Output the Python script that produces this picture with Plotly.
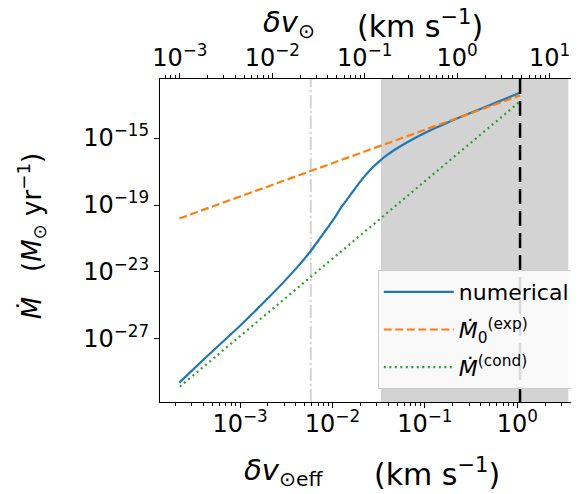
import plotly.graph_objects as go

# ---- data (log10 values) ----
num_logx = [-3.657, -3.40, -3.04, -2.68, -2.39, -2.24, -2.13, -2.00, -1.90, -1.80,
            -1.70, -1.60, -1.50, -1.40, -1.30, -1.20, -1.05, -0.90, -0.70, -0.40,
            -0.006, 0.03]
num_logy = [-29.61, -28.26, -26.42, -24.47, -22.77, -21.78, -20.95, -19.95, -19.10, -18.35,
            -17.60, -16.95, -16.42, -15.98, -15.61, -15.28, -14.83, -14.43, -13.94, -13.26,
            -12.37, -12.27]
exp_logx = [-3.656, -2.0, -1.0, 0.03]
exp_logy = [-19.80, -16.49, -14.47, -12.45]
cond_logx = [-3.651, -2.186, -0.014, 0.03]
cond_logy = [-29.85, -23.07, -13.01, -12.81]

shade_range = [0.0335, 3.56]      # grey band (km/s, bottom axis)
vline_dashdot = 0.00582           # light grey dash-dot line
vline_dashed = 1.07               # black dashed line
top_shift_log = 0.651             # top axis = bottom axis * 10**shift

x_tickvals = [1e-3, 1e-2, 1e-1, 1e0]
x_ticktext = ["10<sup>−3</sup>", "10<sup>−2</sup>", "10<sup>−1</sup>", "10<sup>0</sup>"]
x2_tickvals = [1e-3, 1e-2, 1e-1, 1e0, 1e1]
x2_ticktext = ["10<sup>−3</sup>", "10<sup>−2</sup>", "10<sup>−1</sup>", "10<sup>0</sup>", "10<sup>1</sup>"]
y_tickvals = [1e-27, 1e-23, 1e-19, 1e-15]
y_ticktext = ["10<sup>−27</sup>", "10<sup>−23</sup>", "10<sup>−19</sup>", "10<sup>−15</sup>"]

xrange_log = [-3.866, 0.667]
yrange_log = [-30.77, -11.47]

FONT = "DejaVu Sans"
BLUE, ORANGE, GREEN = "#1f77b4", "#ff7f0e", "#2ca02c"

p10 = lambda a: [10 ** v for v in a]

fig = go.Figure()
fig.add_trace(go.Scatter(x=p10(num_logx), y=p10(num_logy), mode="lines", name="numerical",
                         legendgroup="a",
                         line=dict(color=BLUE, width=2.2, shape="spline", smoothing=0.4)))
fig.add_trace(go.Scatter(x=p10(exp_logx), y=p10(exp_logy), mode="lines",
                         name="<i>Ṁ</i><sub>0</sub><sup>(exp)</sup>", legendgroup="b",
                         line=dict(color=ORANGE, width=2.2, dash="8px,3.5px")))
fig.add_trace(go.Scatter(x=p10(cond_logx), y=p10(cond_logy), mode="lines",
                         name="<i>Ṁ</i><sup>(cond)</sup>", legendgroup="c",
                         line=dict(color=GREEN, width=2.2, dash="2px,3.5px")))
# invisible trace to anchor top axis
fig.add_trace(go.Scatter(x=[10 ** (xrange_log[0] + top_shift_log)], y=[10 ** yrange_log[0]],
                         xaxis="x2", mode="markers", marker=dict(opacity=0), showlegend=False,
                         hoverinfo="skip"))

fig.add_shape(type="rect", xref="x", yref="paper", x0=shade_range[0], x1=shade_range[1],
              y0=0, y1=1, fillcolor="#d3d3d3", line=dict(width=0), layer="below")
fig.add_shape(type="line", xref="x", yref="paper", x0=vline_dashdot, x1=vline_dashdot,
              y0=0, y1=1, line=dict(color="#d3d3d3", width=2, dash="13px,3px,2px,3px"),
              layer="below")
fig.add_shape(type="line", xref="x", yref="paper", x0=vline_dashed, x1=vline_dashed,
              y0=0, y1=1, line=dict(color="black", width=2.5, dash="15px,7px"), layer="above")

tickfont = dict(family=FONT, size=24, color="black")
fig.update_layout(
    width=571, height=486,
    margin=dict(l=152, r=0, t=71, b=92),
    paper_bgcolor="white", plot_bgcolor="white",
    font=dict(family=FONT, color="black"),
    xaxis=dict(type="log", range=xrange_log, showline=True, linecolor="black", linewidth=1.2,
               ticks="outside", ticklen=5, tickwidth=1.2, tickcolor="black",
               tickvals=x_tickvals, ticktext=x_ticktext, tickfont=tickfont,
               ticklabelstandoff=-5,
               minor=dict(ticks="outside", ticklen=3, tickwidth=1, tickcolor="black", dtick="D1"),
               showgrid=False, zeroline=False),
    xaxis2=dict(type="log", overlaying="x", side="top",
                range=[xrange_log[0] + top_shift_log, xrange_log[1] + top_shift_log],
                showline=True, linecolor="black", linewidth=1.2,
                ticks="outside", ticklen=5, tickwidth=1.2, tickcolor="black",
                tickvals=x2_tickvals, ticktext=x2_ticktext, tickfont=tickfont,
                ticklabelstandoff=-3,
                minor=dict(ticks="outside", ticklen=3, tickwidth=1, tickcolor="black", dtick="D1"),
                showgrid=False, zeroline=False),
    yaxis=dict(type="log", range=yrange_log, showline=True, linecolor="black", linewidth=1.2,
               ticks="outside", ticklen=5, tickwidth=1.2, tickcolor="black",
               tickvals=y_tickvals, ticktext=y_ticktext, tickfont=tickfont,
               showgrid=False, zeroline=False),
    legend=dict(x=0.99, y=0.04, xanchor="right", yanchor="bottom", traceorder="grouped",
                tracegroupgap=6,
                bgcolor="rgba(255,255,255,0.85)", bordercolor="#cccccc", borderwidth=1,
                font=dict(family=FONT, size=22, color="black"), itemwidth=70),
    showlegend=True,
)

NB = "\u00a0"
tfont = dict(family=FONT, size=29, color="black")
ufont = dict(family=FONT, size=30, color="black")
unit = "(km s<sup>−1</sup>)"
fig.add_annotation(text="<i>δv</i><sub>⊙</sub>", xref="paper", yref="paper",
                   x=0.241, y=1.17, xanchor="left", yanchor="middle", showarrow=False, font=tfont)
fig.add_annotation(text=unit, xref="paper", yref="paper",
                   x=0.776, y=1.17, xanchor="right", yanchor="middle", showarrow=False, font=ufont)
fig.add_annotation(text="<i>δv</i><sub>⊙eff</sub>", xref="paper", yref="paper",
                   x=0.196, y=-0.217, xanchor="left", yanchor="middle", showarrow=False, font=tfont)
fig.add_annotation(text=unit, xref="paper", yref="paper",
                   x=0.816, y=-0.217, xanchor="right", yanchor="middle", showarrow=False, font=ufont)
fig.add_annotation(text="<i>Ṁ</i>" + NB * 3 + "(<i>M</i><sub>⊙</sub> yr<sup>−1</sup>)",
                   xref="paper", yref="paper", x=-0.308, y=0.513, xanchor="center", yanchor="middle",
                   textangle=-90, showarrow=False, font=dict(family=FONT, size=26, color="black"))

fig.write_html("out.html")
